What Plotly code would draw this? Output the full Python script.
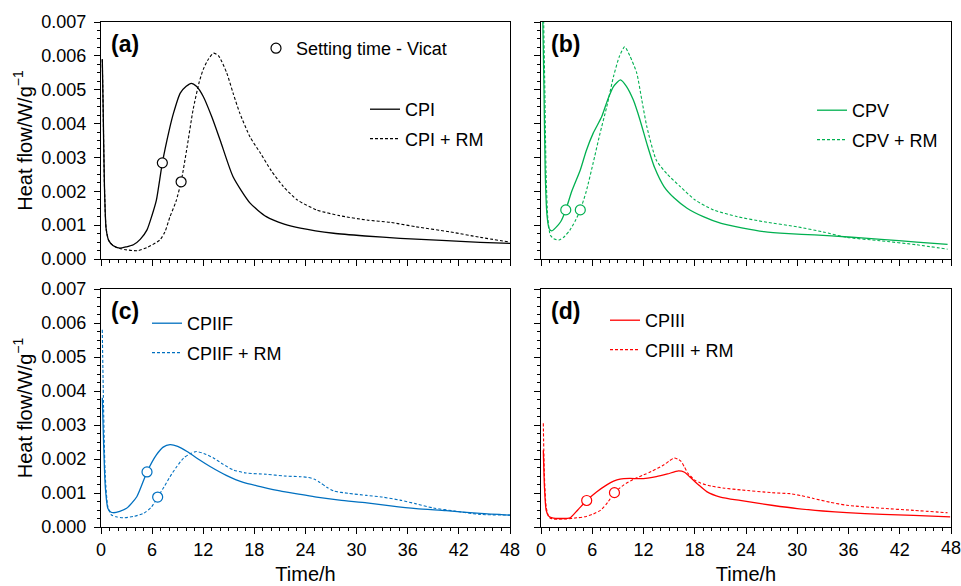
import plotly.graph_objects as go

# ---------------- data ----------------
CPI_t = [0.15, 0.25, 0.4, 0.6, 0.9, 1.4, 2.2, 3.0, 3.8, 4.6, 5.4, 6.0, 6.5, 7.2, 8.0, 8.5, 9.3, 10.0, 10.6, 11.2, 12.0, 13.0, 14.0, 15.5, 17.5, 19.4, 21.5, 23.4, 27.3, 31.0, 35.1, 40.0, 44.5, 48.0]
CPI_v = [0.0059, 0.0045, 0.0022, 0.0009, 0.00055, 0.0004, 0.00032, 0.00036, 0.00042, 0.00058, 0.00086, 0.0013, 0.00174, 0.00284, 0.0038, 0.0043, 0.0049, 0.0051, 0.00519, 0.0051, 0.0048, 0.0042, 0.0035, 0.00243, 0.00165, 0.00125, 0.00103, 0.00091, 0.00076, 0.00068, 0.00061, 0.00055, 0.00049, 0.00046]
CPIRM_t = [0.15, 0.25, 0.4, 0.6, 0.9, 1.4, 2.2, 3.0, 4.3, 5.5, 6.9, 7.5, 8.1, 8.8, 9.4, 10.1, 10.8, 11.5, 12.0, 12.6, 13.2, 13.8, 14.75, 15.5, 16.3, 17.5, 18.7, 20.0, 21.4, 23.0, 25.3, 28.0, 31.2, 34.0, 37.0, 41.0, 44.5, 48.0]
CPIRM_v = [0.0059, 0.0045, 0.0022, 0.0009, 0.00055, 0.0004, 0.00031, 0.00027, 0.000245, 0.00035, 0.00056, 0.0008, 0.00125, 0.0017, 0.00228, 0.0033, 0.0044, 0.0052, 0.0056, 0.0059, 0.00608, 0.006, 0.0055, 0.0049, 0.0043, 0.0036, 0.00313, 0.0026, 0.00214, 0.00175, 0.00145, 0.00128, 0.00115, 0.00108, 0.00095, 0.0008, 0.00064, 0.0005]

CPV_t = [0.2, 0.35, 0.5, 0.7, 0.95, 1.25, 1.7, 2.3, 2.9, 3.6, 4.6, 5.3, 6.1, 7.1, 7.8, 8.5, 9.3, 10.0, 10.8, 11.6, 12.4, 13.3, 14.4, 15.6, 17.1, 19.0, 21.1, 23.5, 26.1, 29.0, 32.0, 36.0, 39.8, 44.0, 47.6]
CPV_v = [0.0072, 0.005, 0.0025, 0.0013, 0.0009, 0.00083, 0.00092, 0.0011, 0.00145, 0.002, 0.00263, 0.0032, 0.00371, 0.0042, 0.0047, 0.0051, 0.00529, 0.0051, 0.0047, 0.0041, 0.0034, 0.0027, 0.00214, 0.0018, 0.0015, 0.00125, 0.00105, 0.00092, 0.00081, 0.00075, 0.00071, 0.00065, 0.00058, 0.0005, 0.00043]
CPVRM_t = [0.3, 0.45, 0.6, 0.8, 1.1, 1.5, 2.1, 2.7, 3.4, 4.0, 4.6, 5.3, 6.1, 6.9, 7.7, 8.5, 9.2, 9.8, 10.4, 11.2, 11.8, 12.4, 13.5, 14.8, 16.3, 18.0, 20.2, 23.0, 26.1, 30.0, 33.0, 35.8, 39.7, 44.0, 47.6]
CPVRM_v = [0.0072, 0.005, 0.0025, 0.0012, 0.0007, 0.0006, 0.00056, 0.00065, 0.00086, 0.00112, 0.00145, 0.002, 0.00283, 0.0037, 0.0045, 0.0054, 0.006, 0.00627, 0.006, 0.0055, 0.0047, 0.0039, 0.00292, 0.0025, 0.00214, 0.00175, 0.00145, 0.00125, 0.0011, 0.00095, 0.0008, 0.00064, 0.00054, 0.00042, 0.00029]

CPIIF_t = [0.15, 0.3, 0.5, 0.8, 1.1, 1.45, 2.2, 3.0, 4.2, 5.4, 6.5, 7.3, 8.1, 9.0, 10.1, 11.4, 12.8, 14.7, 16.7, 18.7, 21.0, 23.4, 25.3, 28.0, 31.2, 34.0, 37.0, 40.5, 44.5, 48.0]
CPIIF_v = [0.0038, 0.0025, 0.0012, 0.00055, 0.00045, 0.00042, 0.00046, 0.00055, 0.00089, 0.00162, 0.00212, 0.00235, 0.00242, 0.00237, 0.00222, 0.002, 0.00178, 0.00152, 0.00131, 0.00119, 0.00106, 0.00096, 0.00088, 0.00079, 0.00071, 0.00062, 0.00054, 0.00048, 0.0004, 0.00035]
CPIIFRM_t = [0.15, 0.3, 0.5, 0.8, 1.2, 1.8, 2.6, 3.8, 5.0, 5.9, 6.65, 7.4, 8.1, 8.9, 9.7, 10.5, 11.2, 12.2, 13.2, 14.3, 15.5, 17.0, 19.4, 21.5, 23.4, 24.3, 25.0, 25.7, 26.5, 27.3, 29.0, 31.2, 33.0, 35.1, 37.0, 39.0, 41.5, 44.5, 48.0]
CPIIFRM_v = [0.0058, 0.0035, 0.0015, 0.0006, 0.00036, 0.0003, 0.00027, 0.00031, 0.0004, 0.00058, 0.00088, 0.00118, 0.00148, 0.00178, 0.00203, 0.00216, 0.00222, 0.00215, 0.00203, 0.00185, 0.00168, 0.00159, 0.00155, 0.0015, 0.00148, 0.00146, 0.00141, 0.00131, 0.00117, 0.00106, 0.00099, 0.00093, 0.00088, 0.00079, 0.00068, 0.00056, 0.00047, 0.00037, 0.00035]

CPIII_t = [0.27, 0.4, 0.6, 0.9, 1.45, 2.4, 3.4, 4.3, 5.35, 6.5, 7.7, 8.5, 9.25, 10.4, 11.6, 12.5, 13.5, 14.8, 16.1, 16.8, 17.4, 18.4, 19.4, 21.0, 23.3, 27.0, 30.0, 33.0, 35.8, 40.0, 43.6, 47.9]
CPIII_v = [0.00226, 0.0012, 0.0005, 0.00032, 0.00026, 0.00025, 0.00027, 0.0005, 0.00078, 0.00103, 0.00124, 0.00135, 0.00141, 0.00143, 0.00142, 0.00144, 0.00148, 0.00156, 0.00165, 0.00161, 0.00148, 0.00125, 0.00104, 0.00088, 0.00078, 0.00064, 0.00054, 0.00047, 0.00042, 0.00037, 0.00034, 0.0003]
CPIIIRM_t = [0.27, 0.4, 0.6, 0.9, 1.3, 1.9, 3.0, 4.2, 5.1, 6.0, 7.0, 7.8, 8.6, 9.7, 10.9, 12.0, 12.9, 14.4, 15.0, 15.6, 16.0, 16.4, 16.8, 17.2, 18.0, 18.7, 20.0, 21.5, 23.4, 27.0, 29.2, 30.5, 31.9, 33.8, 35.8, 40.0, 43.6, 47.6]
CPIIIRM_v = [0.00305, 0.0015, 0.0006, 0.0003, 0.00024, 0.00023, 0.00024, 0.00027, 0.0003, 0.00037, 0.0005, 0.00072, 0.00101, 0.00124, 0.00141, 0.00153, 0.00163, 0.00183, 0.00194, 0.00203, 0.002, 0.00193, 0.00176, 0.00158, 0.00138, 0.00129, 0.0012, 0.00114, 0.00109, 0.00101, 0.00098, 0.00092, 0.00084, 0.00073, 0.00064, 0.00055, 0.00049, 0.00042]

# setting times (Vicat): [plain cement, cement + RM]
SET_CPI_t, SET_CPI_v = [7.2, 9.4], [0.00284, 0.00228]
SET_CPV_t, SET_CPV_v = [2.9, 4.6], [0.00145, 0.00145]
SET_CPIIF_t, SET_CPIIF_v = [5.4, 6.65], [0.00162, 0.00088]
SET_CPIII_t, SET_CPIII_v = [5.35, 8.6], [0.00078, 0.00101]

x_ticks = [0, 6, 12, 18, 24, 30, 36, 42, 48]
y_ticks = [0.000, 0.001, 0.002, 0.003, 0.004, 0.005, 0.006, 0.007]

# ---------------- styling ----------------
FONT = "Arial, Liberation Sans, sans-serif"
BLACK = "#000000"
GREEN = "#00B050"
BLUE = "#0070C0"
RED = "#FF0000"
DASH = "3px,2px"

panels = [
    ("x", "y", "legend", BLACK, "CPI", CPI_t, CPI_v, "CPI + RM", CPIRM_t, CPIRM_v, SET_CPI_t, SET_CPI_v),
    ("x2", "y2", "legend2", GREEN, "CPV", CPV_t, CPV_v, "CPV + RM", CPVRM_t, CPVRM_v, SET_CPV_t, SET_CPV_v),
    ("x3", "y3", "legend3", BLUE, "CPIIF", CPIIF_t, CPIIF_v, "CPIIF + RM", CPIIFRM_t, CPIIFRM_v, SET_CPIIF_t, SET_CPIIF_v),
    ("x4", "y4", "legend4", RED, "CPIII", CPIII_t, CPIII_v, "CPIII + RM", CPIIIRM_t, CPIIIRM_v, SET_CPIII_t, SET_CPIII_v),
]

fig = go.Figure()
for i, (xa, ya, lg, col, n1, t1, v1, n2, t2, v2, st, sv) in enumerate(panels):
    fig.add_trace(go.Scatter(x=t1, y=v1, mode="lines", name=n1, xaxis=xa, yaxis=ya,
                             line=dict(color=col, width=1.3, shape="spline", smoothing=0.6),
                             legend=lg, legendgroup=f"{lg}a"))
    fig.add_trace(go.Scatter(x=t2, y=v2, mode="lines", name=n2, xaxis=xa, yaxis=ya,
                             line=dict(color=col, width=1.1, dash=DASH, shape="spline", smoothing=0.6),
                             legend=lg, legendgroup=f"{lg}b"))
    fig.add_trace(go.Scatter(x=st, y=sv, mode="markers", xaxis=xa, yaxis=ya,
                             name="Setting time - Vicat", showlegend=(i == 0), legend="legend5",
                             marker=dict(symbol="circle", size=10, color="white",
                                         line=dict(color=col, width=1.2)), cliponaxis=False))

XD1 = [101 / 961, 510 / 961]
XD2 = [541 / 961, 951 / 961]
YD1 = [1 - 259 / 586, 1 - 22 / 586]
YD2 = [1 - 527 / 586, 1 - 289 / 586]

def xax(domain, anchor, labels):
    d = dict(domain=domain, anchor=anchor, range=[0, 48], tickvals=x_ticks,
             showticklabels=labels, showline=True, mirror=True, linecolor=BLACK, linewidth=1.3,
             ticks="outside", ticklen=6, tickwidth=1.2, tickcolor=BLACK, showgrid=False, zeroline=False,
             minor=dict(dtick=1, ticks="outside", ticklen=3, tickwidth=1, tickcolor=BLACK, showgrid=False),
             tickfont=dict(family=FONT, size=18, color=BLACK), automargin=False)
    if labels:
        d["title"] = dict(text="Time/h", font=dict(family=FONT, size=20, color=BLACK), standoff=8)
    return d

def yax(domain, anchor, labels):
    d = dict(domain=domain, anchor=anchor, range=[0, 0.007], tickvals=y_ticks, tickformat=".3f",
             showticklabels=labels, showline=True, mirror=True, linecolor=BLACK, linewidth=1.3,
             ticks="outside", ticklen=6, tickwidth=1.2, tickcolor=BLACK, showgrid=False, zeroline=False,
             minor=dict(dtick=0.00025, ticks="outside", ticklen=3, tickwidth=1, tickcolor=BLACK, showgrid=False),
             tickfont=dict(family=FONT, size=18, color=BLACK), automargin=False, ticklabelstandoff=4)
    if labels:
        d["title"] = dict(text="Heat flow/W/g<sup>\u22121</sup>", font=dict(family=FONT, size=20, color=BLACK), standoff=3)
    return d

def legend_at(xpx, ypx):
    return dict(x=xpx / 961, y=1 - ypx / 586, xanchor="left", yanchor="top", xref="paper", yref="paper",
                bgcolor="rgba(0,0,0,0)", borderwidth=0, font=dict(family=FONT, size=18, color=BLACK),
                tracegroupgap=3, itemwidth=30, orientation="v")

fig.update_layout(
    width=961, height=586,
    margin=dict(l=0, r=0, t=0, b=0, autoexpand=False),
    paper_bgcolor="white", plot_bgcolor="white",
    font=dict(family=FONT, color=BLACK),
    xaxis=xax(XD1, "y", False), yaxis=yax(YD1, "x", True),
    xaxis2=xax(XD2, "y2", False), yaxis2=yax(YD1, "x2", False),
    xaxis3=xax(XD1, "y3", True), yaxis3=yax(YD2, "x3", True),
    xaxis4=xax(XD2, "y4", True), yaxis4=yax(YD2, "x4", False),
    legend=legend_at(365, 91),
    legend2=legend_at(812, 92),
    legend3=legend_at(147, 305),
    legend4=legend_at(605, 302),
    legend5=legend_at(256, 30),
    showlegend=True,
)

labels = [("(a)", "x", "y"), ("(b)", "x2", "y2"), ("(c)", "x3", "y3"), ("(d)", "x4", "y4")]
for txt, xa, ya in labels:
    fig.add_annotation(text=f"<b>{txt}</b>", xref=f"{xa} domain", yref=f"{ya} domain",
                       x=0.02, y=0.97, xanchor="left", yanchor="top", showarrow=False,
                       font=dict(family=FONT, size=23, color=BLACK))

# last tick label of panel (d) sits on the page edge; plotly hides it, so draw it as text
fig.add_annotation(text=str(x_ticks[-1]), xref="x4", yref="y4 domain", x=x_ticks[-1], y=0,
                   yshift=-9, xanchor="center", yanchor="top", showarrow=False,
                   font=dict(family=FONT, size=18, color=BLACK))

fig.write_html("out.html", config={"displayModeBar": False},
               post_script="document.body.style.margin='0';")
